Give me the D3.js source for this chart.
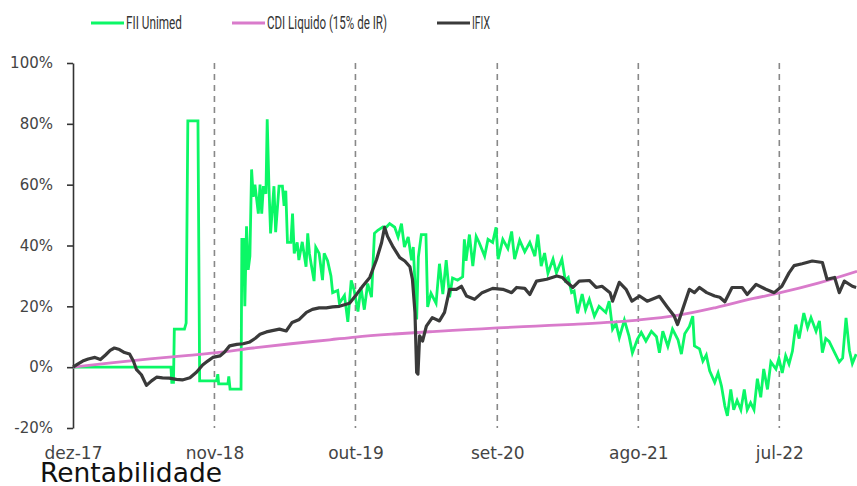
<!DOCTYPE html>
<html>
<head>
    <meta charset="utf-8">
    <title>Rentabilidade</title>
    <script src="https://d3js.org/d3.v7.min.js"></script>
    <style>
        body { margin: 0; background: #fff; }
        svg { display: block; }
    </style>
</head>
<body>
    <div id="chart"></div>

    <script>
        // eixo x: rótulos e datas
        const xLabels = ["dez-17", "nov-18", "out-19", "set-20", "ago-21", "jul-22"];
        const xLabelDates = ["2017-12-01", "2018-11-01", "2019-10-01", "2020-09-01", "2021-08-01", "2022-07-01"];
        const yTicks = [-20, 0, 20, 40, 60, 80, 100];
        const seriesNames = ["FII Unimed", "CDI Liquido (15% de IR)", "IFIX"];

        // rentabilidade acumulada (%)
        const fiiUnimed = [
            ["2017-12-01", 0], ["2018-07-21", 0], ["2018-07-23", -5], ["2018-07-27", -5], ["2018-07-29", 12.5],
            ["2018-08-22", 12.5], ["2018-08-26", 14.5], ["2018-08-30", 81], ["2018-09-23", 81], ["2018-09-27", -4.5],
            ["2018-11-06", -4.5], ["2018-11-09", -2.3], ["2018-11-11", -5.5], ["2018-12-03", -5.5], ["2018-12-05", -3],
            ["2018-12-08", -7.2], ["2019-01-03", -7.2], ["2019-01-05", 42], ["2019-01-09", 42], ["2019-01-12", 20],
            ["2019-01-16", 46.3], ["2019-01-20", 32], ["2019-01-24", 36.5], ["2019-01-28", 65], ["2019-02-01", 56],
            ["2019-02-05", 60], ["2019-02-13", 50.5], ["2019-02-17", 60], ["2019-02-21", 50.5], ["2019-02-25", 59.5],
            ["2019-03-03", 57], ["2019-03-06", 81.5], ["2019-03-10", 60], ["2019-03-14", 44], ["2019-03-22", 59.5],
            ["2019-03-26", 44.4], ["2019-04-03", 59.5], ["2019-04-11", 59.5], ["2019-04-15", 53], ["2019-04-19", 58],
            ["2019-04-23", 41], ["2019-05-01", 41], ["2019-05-05", 50.5], ["2019-05-09", 37.4], ["2019-05-16", 41],
            ["2019-05-20", 35.2], ["2019-05-28", 41.2], ["2019-06-06", 33], ["2019-06-10", 44], ["2019-06-14", 37.4],
            ["2019-06-18", 34], ["2019-06-25", 28.3], ["2019-06-29", 39.4], ["2019-07-07", 37.4], ["2019-07-15", 28.6],
            ["2019-07-19", 37.4], ["2019-07-27", 35], ["2019-08-04", 30], ["2019-08-08", 24.5], ["2019-08-20", 25.2],
            ["2019-08-24", 21], ["2019-09-05", 23.6], ["2019-09-13", 14.9], ["2019-09-21", 28.5], ["2019-09-28", 25.2],
            ["2019-10-07", 18.3], ["2019-10-14", 26.3], ["2019-10-22", 18.9], ["2019-10-30", 27.5], ["2019-11-08", 23],
            ["2019-11-15", 44], ["2019-11-23", 45], ["2019-12-05", 46.1], ["2019-12-13", 46], ["2019-12-21", 47.2],
            ["2020-01-02", 46], ["2020-01-10", 42.8], ["2020-01-18", 47.2], ["2020-01-25", 39.5], ["2020-02-03", 42.8],
            ["2020-02-11", 35.1], ["2020-02-15", 39.5], ["2020-02-23", 15.7], ["2020-02-27", 36.2], ["2020-03-05", 43.6],
            ["2020-03-16", 43.6], ["2020-03-20", 19.8], ["2020-03-28", 24.3], ["2020-04-09", 21], ["2020-04-17", 34],
            ["2020-04-25", 24], ["2020-05-03", 35.2], ["2020-05-11", 23], ["2020-05-18", 29.3], ["2020-05-30", 28.6],
            ["2020-06-11", 29.7], ["2020-06-15", 42], ["2020-06-19", 35], ["2020-06-27", 43.6], ["2020-07-05", 33.2],
            ["2020-07-13", 43], ["2020-07-20", 41], ["2020-08-02", 36.5], ["2020-08-10", 42], ["2020-08-21", 41],
            ["2020-08-29", 46], ["2020-09-03", 35.5], ["2020-09-14", 42], ["2020-09-26", 39], ["2020-10-05", 44.6],
            ["2020-10-12", 35.5], ["2020-10-24", 41.7], ["2020-11-05", 37.9], ["2020-11-17", 41], ["2020-11-29", 36.5],
            ["2020-12-06", 43.6], ["2020-12-14", 33.2], ["2020-12-22", 37.5], ["2020-12-30", 30.9], ["2021-01-11", 35.5],
            ["2021-01-19", 31], ["2021-02-01", 35.5], ["2021-02-09", 28.6], ["2021-02-16", 29.5], ["2021-02-24", 24.5],
            ["2021-03-02", 25], ["2021-03-10", 17.7], ["2021-03-21", 24], ["2021-03-29", 18.9], ["2021-04-07", 22.3],
            ["2021-04-19", 16.8], ["2021-04-30", 20], ["2021-05-16", 18], ["2021-05-24", 21.7], ["2021-06-01", 12.5],
            ["2021-06-09", 14.4], ["2021-06-17", 9.7], ["2021-06-29", 15.5], ["2021-07-10", 10.2], ["2021-07-18", 4.7],
            ["2021-07-30", 9.2], ["2021-08-08", 11.4], ["2021-08-19", 8.6], ["2021-09-01", 11.8], ["2021-09-13", 10],
            ["2021-09-20", 4.7], ["2021-09-28", 11.8], ["2021-10-10", 6.8], ["2021-10-21", 12.5], ["2021-11-03", 9],
            ["2021-11-11", 4.3], ["2021-11-19", 11], ["2021-11-30", 13.4], ["2021-12-08", 16.8], ["2021-12-12", 7],
            ["2021-12-24", 6], ["2022-01-01", 2], ["2022-01-09", 4], ["2022-01-17", -1.2], ["2022-01-29", -5],
            ["2022-02-06", -1.9], ["2022-02-14", -6.2], ["2022-02-22", -12.8], ["2022-02-28", -16], ["2022-03-08", -7.3],
            ["2022-03-15", -14], ["2022-03-23", -10.9], ["2022-04-01", -14], ["2022-04-09", -7.3], ["2022-04-16", -14],
            ["2022-04-24", -11.7], ["2022-05-02", -14], ["2022-05-10", -3.8], ["2022-05-18", -9.9], ["2022-05-25", -0.6],
            ["2022-06-03", -7.3], ["2022-06-11", 1.7], ["2022-06-23", -0.6], ["2022-06-30", 2.8], ["2022-07-08", -1.9],
            ["2022-07-16", 3.8], ["2022-07-24", 1], ["2022-08-01", 5.2], ["2022-08-09", 14], ["2022-08-17", 9.4],
            ["2022-08-28", 17.8], ["2022-09-06", 13], ["2022-09-14", 16.3], ["2022-09-26", 11.8], ["2022-10-04", 15.2],
            ["2022-10-11", 4.8], ["2022-10-19", 9.4], ["2022-10-27", 8.5], ["2022-11-09", 4.8], ["2022-11-20", 1.7],
            ["2022-11-28", 3], ["2022-12-06", 16.2], ["2022-12-14", 5.5], ["2022-12-21", 1.2], ["2022-12-30", 4.3]
        ];

        const cdi = [
            ["2017-12-01", 0], ["2018-03-01", 1.4], ["2018-06-01", 2.7], ["2018-09-01", 3.9], ["2018-11-01", 4.7],
            ["2019-02-01", 6.3], ["2019-05-01", 7.7], ["2019-08-01", 9.0], ["2019-10-01", 9.9], ["2020-01-01", 10.9],
            ["2020-04-01", 11.7], ["2020-07-01", 12.4], ["2020-09-01", 12.9], ["2020-12-01", 13.5], ["2021-03-01", 14.1],
            ["2021-06-01", 14.8], ["2021-08-01", 15.5], ["2021-11-01", 17.0], ["2022-02-01", 19.6], ["2022-05-01", 22.6],
            ["2022-07-01", 24.4], ["2022-10-01", 27.6], ["2023-01-01", 31.5]
        ];

        const ifix = [
            ["2017-12-01", 0], ["2017-12-12", 1], ["2017-12-24", 2], ["2018-01-06", 2.7], ["2018-01-22", 3.2],
            ["2018-02-04", 2.5], ["2018-02-16", 4], ["2018-02-27", 5.5], ["2018-03-09", 6.3], ["2018-03-21", 5.8],
            ["2018-04-02", 4.8], ["2018-04-14", 4.3], ["2018-04-23", 2], ["2018-04-30", -0.7], ["2018-05-12", -2.5],
            ["2018-05-24", -6], ["2018-06-05", -4.5], ["2018-06-17", -3.3], ["2018-07-01", -3.5], ["2018-07-17", -3.6],
            ["2018-08-03", -4], ["2018-08-17", -4.2], ["2018-09-04", -3.5], ["2018-09-20", -1.6], ["2018-10-04", 0.7],
            ["2018-10-16", 2], ["2018-10-28", 3.2], ["2018-11-14", 3.7], ["2018-11-25", 5], ["2018-12-07", 7],
            ["2018-12-24", 7.5], ["2019-01-08", 7.7], ["2019-01-24", 8.3], ["2019-02-06", 9.5], ["2019-02-17", 10.8],
            ["2019-03-04", 11.6], ["2019-03-18", 12], ["2019-04-04", 12.5], ["2019-04-20", 11.9], ["2019-05-04", 14.7],
            ["2019-05-21", 15.7], ["2019-06-07", 18], ["2019-06-21", 19], ["2019-07-07", 19.5], ["2019-07-24", 19.5],
            ["2019-08-08", 19.8], ["2019-08-24", 20], ["2019-09-17", 21], ["2019-10-04", 24], ["2019-10-18", 26.6],
            ["2019-11-04", 29.5], ["2019-11-20", 35.4], ["2019-12-02", 41], ["2019-12-09", 46], ["2019-12-16", 43],
            ["2019-12-28", 39.8], ["2020-01-14", 36], ["2020-01-26", 34.9], ["2020-02-07", 33], ["2020-02-13", 28.9],
            ["2020-02-19", 18], ["2020-02-23", -1.7], ["2020-02-26", -2.3], ["2020-03-01", 10.3], ["2020-03-08", 8.6],
            ["2020-03-17", 13.5], ["2020-03-31", 16.3], ["2020-04-17", 15.2], ["2020-04-29", 18], ["2020-05-11", 25.6],
            ["2020-05-27", 25.6], ["2020-06-08", 26.6], ["2020-06-20", 23.4], ["2020-07-09", 22.3], ["2020-07-27", 24.5],
            ["2020-08-21", 25.9], ["2020-09-14", 25.6], ["2020-10-05", 24.5], ["2020-10-17", 26.2], ["2020-11-05", 25.9],
            ["2020-11-17", 23.9], ["2020-12-03", 28.3], ["2020-12-27", 28.9], ["2021-01-20", 30], ["2021-02-02", 29.5],
            ["2021-02-13", 27.9], ["2021-02-27", 26.2], ["2021-03-14", 28.3], ["2021-04-07", 28.5], ["2021-04-23", 26.2],
            ["2021-05-07", 26.6], ["2021-05-26", 24.5], ["2021-06-01", 21.7], ["2021-06-17", 27.9], ["2021-07-03", 25.6],
            ["2021-07-17", 21.7], ["2021-08-04", 23.4], ["2021-08-22", 21.7], ["2021-09-20", 23.3], ["2021-10-09", 19.7],
            ["2021-10-25", 16.8], ["2021-11-02", 14], ["2021-11-14", 19], ["2021-11-30", 25.6], ["2021-12-12", 24.5],
            ["2021-12-24", 26.2], ["2022-01-10", 24.5], ["2022-01-29", 23.4], ["2022-02-10", 23], ["2022-02-22", 21.5],
            ["2022-03-11", 26.2], ["2022-04-04", 26.2], ["2022-04-16", 23.9], ["2022-05-07", 27.2], ["2022-05-30", 25.6],
            ["2022-06-19", 24.5], ["2022-07-07", 26.6], ["2022-07-24", 31], ["2022-08-05", 33.4], ["2022-08-24", 34],
            ["2022-09-17", 34.9], ["2022-10-11", 34.4], ["2022-10-22", 28.9], ["2022-11-09", 29.5], ["2022-11-20", 24.5],
            ["2022-12-02", 28.3], ["2022-12-21", 26.6], ["2022-12-30", 26.2]
        ];

        const width = 857, height = 486;
        const plot = { left: 73, right: 857, top: 63, bottom: 428 };
        const colors = ["#0bf766", "#d97bcb", "#3a3a3a"];
        const parse = d3.timeParse("%Y-%m-%d");

        const svg = d3.select("#chart")
            .append("svg")
            .attr("width", width)
            .attr("height", height);

        const x = d3.scaleTime()
            .domain([parse("2017-12-01"), parse("2023-01-01")])
            .range([plot.left, plot.right]);

        const y = d3.scaleLinear()
            .domain([-20, 100])
            .range([plot.bottom, plot.top]);

        // linhas verticais tracejadas
        svg.selectAll(".grid")
            .data(xLabelDates.slice(1))
            .enter().append("line")
            .attr("class", "grid")
            .attr("x1", d => x(parse(d)))
            .attr("x2", d => x(parse(d)))
            .attr("y1", plot.top)
            .attr("y2", plot.bottom)
            .attr("stroke", "#888")
            .attr("stroke-width", 1.6)
            .attr("stroke-dasharray", "6,5");

        // eixo y
        const yAxis = svg.append("g")
            .attr("transform", `translate(${plot.left},0)`)
            .call(d3.axisLeft(y).tickValues(yTicks).tickFormat(d => d + "%")
                .tickSize(6).tickSizeOuter(0).tickPadding(14));
        yAxis.select(".domain").attr("stroke", "#333").attr("stroke-width", 1.6);
        yAxis.selectAll(".tick line").attr("stroke", "#333").attr("stroke-width", 1.6);
        yAxis.selectAll("text")
            .attr("fill", "#444")
            .style("font-family", "'DejaVu Sans', sans-serif")
            .style("font-size", "15px");

        // eixo x (apenas rótulos)
        const xAxis = svg.append("g")
            .attr("transform", `translate(0,${plot.bottom})`)
            .call(d3.axisBottom(x).tickValues(xLabelDates.map(parse))
                .tickFormat((d, i) => xLabels[i]).tickSize(0).tickPadding(19));
        xAxis.select(".domain").remove();
        xAxis.selectAll("text")
            .attr("fill", "#444")
            .style("font-family", "'DejaVu Sans', sans-serif")
            .style("font-size", "17px");

        // séries
        const line = d3.line()
            .x(d => x(parse(d[0])))
            .y(d => y(d[1]));

        svg.append("path")
            .datum(fiiUnimed)
            .attr("fill", "none")
            .attr("stroke", colors[0])
            .attr("stroke-width", 2.8)
            .attr("d", line);

        svg.append("path")
            .datum(cdi)
            .attr("fill", "none")
            .attr("stroke", colors[1])
            .attr("stroke-width", 2.8)
            .attr("d", line.curve(d3.curveMonotoneX));

        svg.append("path")
            .datum(ifix)
            .attr("fill", "none")
            .attr("stroke", colors[2])
            .attr("stroke-width", 3.2)
            .attr("stroke-linejoin", "round")
            .attr("d", line.curve(d3.curveLinear));

        // legenda (texto estreito, como no original)
        const legendX = [91, 232, 437];
        const legendTextWidth = [56, 120, 18];
        const legend = svg.selectAll(".legend")
            .data(seriesNames)
            .enter().append("g")
            .attr("class", "legend")
            .attr("transform", (d, i) => `translate(${legendX[i]},23)`);

        legend.append("line")
            .attr("x1", 0).attr("x2", 33)
            .attr("stroke", (d, i) => colors[i])
            .attr("stroke-width", 3.2);

        legend.append("text")
            .attr("x", 35)
            .attr("y", 6)
            .attr("fill", "#333")
            .attr("textLength", (d, i) => legendTextWidth[i])
            .attr("lengthAdjust", "spacingAndGlyphs")
            .style("font-family", "'Roboto', sans-serif")
            .style("font-size", "18.5px")
            .text(d => d);

        // título
        svg.append("text")
            .attr("x", 40)
            .attr("y", 482)
            .attr("fill", "#111")
            .style("font-family", "'DejaVu Sans', sans-serif")
            .style("font-size", "26.5px")
            .text("Rentabilidade");
    </script>
</body>
</html>
